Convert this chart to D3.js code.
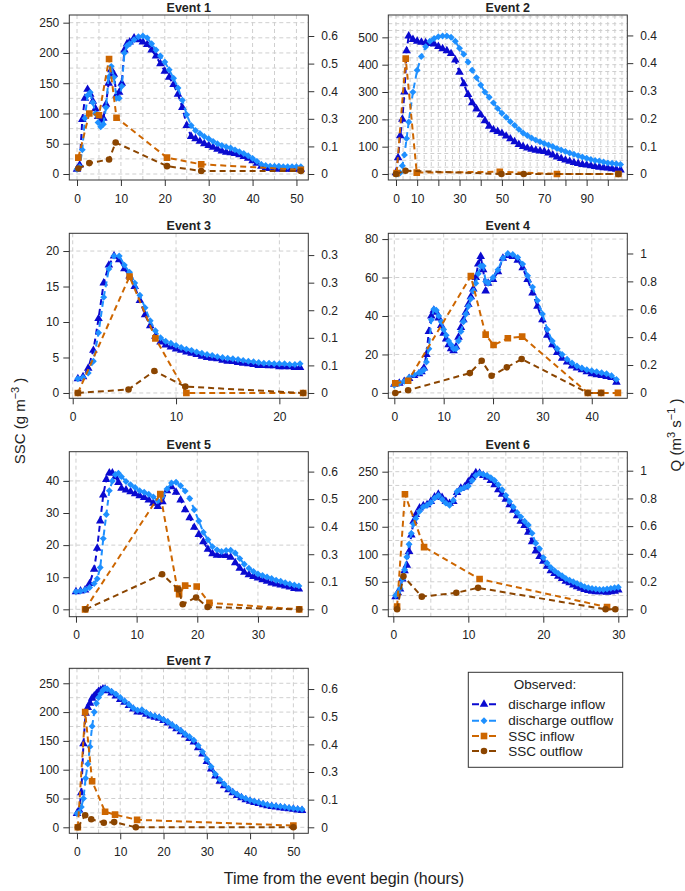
<!DOCTYPE html>
<html><head><meta charset="utf-8">
<script src="https://cdn.jsdelivr.net/npm/d3@7"></script>
<style>
body{margin:0;background:#fff}
svg{display:block}
text{font-family:"Liberation Sans",Arial,Helvetica,sans-serif;fill:#222}
</style>
</head><body>
<svg id="c" width="685" height="891"></svg>
<script>
// ---------------- DATA ----------------
// Event 1
const e1_t = [0,0.6,1.2,1.8,2.4,3,3.6,4.2,4.8,5.4,6,6.6,7.2,7.8,8.4,9,9.6,10.2,10.8,11.4,12,13,14,15,16,17,18,19,20,21,22,23,24,25,26,27,28,29,30,31,32,33,34,35,36,37,38,39,40,41,42,43,44,45,46,47,48,49,50,51];
const e1_qin = [0.021,0.039,0.237,0.329,0.368,0.347,0.316,0.284,0.25,0.232,0.242,0.303,0.395,0.453,0.434,0.342,0.355,0.395,0.539,0.566,0.574,0.592,0.584,0.574,0.563,0.539,0.513,0.479,0.447,0.421,0.389,0.347,0.289,0.211,0.163,0.153,0.142,0.132,0.124,0.116,0.108,0.1,0.095,0.092,0.089,0.084,0.076,0.068,0.058,0.047,0.034,0.026,0.024,0.024,0.021,0.021,0.021,0.021,0.021,0.021];
const e1_qout = [0.021,0.032,0.105,0.242,0.342,0.355,0.311,0.263,0.224,0.205,0.216,0.289,0.421,0.468,0.421,0.329,0.329,0.382,0.526,0.558,0.566,0.584,0.597,0.6,0.592,0.566,0.539,0.513,0.487,0.453,0.416,0.374,0.321,0.258,0.211,0.189,0.176,0.163,0.153,0.142,0.132,0.124,0.118,0.113,0.105,0.097,0.089,0.079,0.068,0.055,0.042,0.037,0.034,0.034,0.034,0.032,0.032,0.032,0.032,0.032];
const e1_sin_t = [0.3,2.8,5,7.3,9,20.5,28.3,51];
const e1_sin = [27,100,97,190,93,27,16,7];
const e1_sout_t = [0.3,2.8,7.3,8.8,20.5,28.3,51];
const e1_sout = [9,18,24,52,13,5,5];

// Event 2
const e2_t = [0,1,2,3,4,5,6,8,10,12,14,16,18,20,22,24,26,28,30,32,34,36,38,40,42,44,46,48,50,52,54,56,58,60,62,64,66,68,70,72,74,76,78,80,82,84,86,88,90,92,94,96,98,100,102,104,106];
const e2_qin = [0.004,0.053,0.124,0.178,0.266,0.4,0.448,0.437,0.431,0.428,0.426,0.424,0.422,0.414,0.407,0.4,0.391,0.37,0.33,0.293,0.258,0.231,0.211,0.192,0.173,0.155,0.144,0.138,0.132,0.123,0.114,0.105,0.096,0.089,0.084,0.08,0.077,0.075,0.073,0.068,0.062,0.055,0.05,0.045,0.041,0.037,0.034,0.031,0.029,0.027,0.024,0.022,0.02,0.019,0.017,0.015,0.013];
const e2_qout = [0,0,0.004,0.027,0.062,0.115,0.169,0.266,0.337,0.382,0.413,0.431,0.44,0.446,0.448,0.448,0.444,0.431,0.408,0.389,0.364,0.337,0.313,0.289,0.266,0.249,0.231,0.213,0.197,0.184,0.17,0.158,0.145,0.133,0.125,0.117,0.11,0.105,0.099,0.094,0.089,0.083,0.078,0.073,0.068,0.064,0.059,0.055,0.051,0.047,0.044,0.042,0.039,0.036,0.035,0.033,0.031];
const e2_sin_t = [0.3,4.6,9.8,49,76,105];
const e2_sin = [3,422,5,8,0,0];
const e2_sout_t = [0,4.5,49.8,60.3,105];
const e2_sout = [0,12,0,0,0];

// Event 3
const e3_t = [0.5,1,1.5,2,2.5,3,3.5,4,4.5,5,5.5,6,6.5,7,7.5,8,8.5,9,9.5,10,10.5,11,11.5,12,12.5,13,13.5,14,14.5,15,15.5,16,16.5,17,17.5,18,18.5,19,19.5,20,20.5,21,21.5,22];
const e3_qin = [0.034,0.039,0.059,0.102,0.178,0.263,0.306,0.328,0.319,0.297,0.28,0.255,0.221,0.187,0.161,0.136,0.122,0.115,0.11,0.105,0.102,0.098,0.095,0.092,0.088,0.085,0.083,0.082,0.078,0.076,0.075,0.073,0.071,0.07,0.068,0.066,0.066,0.065,0.065,0.063,0.063,0.063,0.061,0.061];
const e3_qout = [0.034,0.037,0.048,0.076,0.144,0.229,0.297,0.328,0.328,0.306,0.289,0.263,0.234,0.204,0.173,0.149,0.132,0.124,0.119,0.114,0.109,0.105,0.102,0.098,0.095,0.092,0.09,0.087,0.085,0.083,0.082,0.08,0.078,0.076,0.075,0.073,0.071,0.071,0.07,0.07,0.07,0.068,0.068,0.07];
const e3_sin_t = [0.5,5.5,8,11,22.3];
const e3_sin = [0,16.4,7.7,0,0];
const e3_sout_t = [0.5,5.4,7.9,10.9,22.3];
const e3_sout = [0,0.5,3.1,0.9,0];

// Event 4
const e4_t = [0,1,2,3,4,5,5.5,6,6.5,7,7.5,8,8.5,9,9.5,10,10.5,11,11.5,12,12.5,13,13.5,14,14.5,15,15.5,16,16.5,17,17.5,18,18.5,19,20,21,22,23,24,25,26,27,28,29,30,31,32,33,34,35,36,37,38,39,40,41,42,43,44,45];
const e4_qin = [0.062,0.069,0.083,0.103,0.124,0.138,0.152,0.179,0.276,0.441,0.552,0.593,0.579,0.538,0.483,0.428,0.386,0.345,0.317,0.303,0.331,0.4,0.469,0.524,0.579,0.634,0.69,0.745,0.828,0.924,0.979,0.883,0.731,0.786,0.814,0.869,0.966,0.986,0.979,0.952,0.897,0.814,0.717,0.621,0.524,0.414,0.345,0.29,0.248,0.221,0.193,0.179,0.166,0.152,0.138,0.131,0.124,0.117,0.11,0.076];
const e4_qout = [0.055,0.069,0.083,0.11,0.131,0.145,0.152,0.166,0.221,0.317,0.524,0.6,0.593,0.552,0.51,0.455,0.414,0.372,0.345,0.317,0.317,0.372,0.441,0.51,0.566,0.621,0.676,0.731,0.786,0.855,0.91,0.91,0.8,0.786,0.828,0.883,0.966,1.0,0.993,0.972,0.924,0.841,0.759,0.662,0.566,0.455,0.372,0.317,0.276,0.241,0.214,0.193,0.179,0.166,0.159,0.152,0.145,0.138,0.124,0.097];
const e4_sin_t = [0.2,2.8,15.5,18.5,20.1,23,25.9,39.2,41.9,45.3];
const e4_sin = [5,6.3,60.7,30.3,24.9,28.4,29.3,0,0,0];
const e4_sout_t = [0.2,2.8,15.3,17.7,19.7,22.8,25.8,39.2,41.9];
const e4_sout = [0,1.4,10.3,16.7,8.9,13.3,17.6,0,0];

// Event 5
const e5_t = [0,0.75,1.5,2.25,3,3.5,4,4.5,5,5.5,6,6.5,7,7.5,8.25,9,9.75,10.5,11.25,12,12.75,13.5,14.25,15,15.75,16.5,17.25,18,18.75,19.5,20.25,21,21.75,22.5,23.25,24,24.75,25.5,26.25,27,27.75,28.5,29.25,30,30.75,31.5,32.25,33,33.75,34.5,35.25,36,36.75];
const e5_qin = [0.077,0.08,0.084,0.112,0.175,0.266,0.385,0.498,0.566,0.594,0.594,0.578,0.552,0.527,0.52,0.512,0.503,0.495,0.487,0.476,0.462,0.448,0.469,0.517,0.534,0.51,0.476,0.434,0.399,0.357,0.326,0.294,0.262,0.242,0.236,0.235,0.234,0.227,0.203,0.179,0.161,0.151,0.143,0.136,0.129,0.122,0.115,0.11,0.106,0.102,0.097,0.091,0.088];
const e5_qout = [0.077,0.08,0.084,0.095,0.112,0.133,0.182,0.308,0.413,0.517,0.559,0.587,0.593,0.578,0.557,0.543,0.531,0.517,0.51,0.501,0.49,0.473,0.492,0.524,0.55,0.554,0.538,0.515,0.483,0.434,0.385,0.336,0.303,0.273,0.259,0.252,0.256,0.257,0.245,0.221,0.196,0.179,0.165,0.154,0.147,0.141,0.134,0.127,0.122,0.116,0.11,0.106,0.102];
const e5_sin_t = [1.5,13.9,16.7,17,18,19.9,22,36.8];
const e5_sin = [0,35.9,6.5,4.7,7.4,7.1,2,0];
const e5_sout_t = [1.6,14.2,16.9,17.6,19.8,21.7,36.8];
const e5_sout = [0,10.9,6.2,1.6,3.7,0.7,0];

// Event 6
const e6_t = [0.3,0.6,0.9,1.2,1.5,1.8,2.1,2.4,2.7,3,3.5,4,4.5,5,5.5,6,6.5,7,7.5,8,8.5,9,9.5,10,10.5,11,11.5,12,12.5,13,13.5,14,14.5,15,15.5,16,16.5,17,17.5,18,18.5,19,19.5,20,20.5,21,21.5,22,22.5,23,23.5,24,24.5,25,25.5,26,26.5,27,27.5,28,28.5,29,29.5,30];
const e6_qin = [0.091,0.119,0.147,0.218,0.278,0.318,0.417,0.536,0.635,0.683,0.731,0.747,0.755,0.778,0.81,0.83,0.806,0.778,0.763,0.778,0.842,0.874,0.882,0.921,0.953,0.985,0.981,0.965,0.953,0.929,0.898,0.862,0.83,0.794,0.755,0.715,0.675,0.635,0.604,0.556,0.488,0.421,0.381,0.346,0.31,0.278,0.258,0.238,0.222,0.203,0.191,0.175,0.163,0.151,0.143,0.135,0.131,0.127,0.127,0.127,0.123,0.127,0.131,0.139];
const e6_qout = [0.099,0.119,0.151,0.218,0.286,0.377,0.469,0.548,0.616,0.655,0.707,0.739,0.751,0.77,0.802,0.822,0.794,0.766,0.751,0.786,0.85,0.866,0.878,0.89,0.929,0.965,0.981,0.973,0.965,0.949,0.929,0.898,0.862,0.822,0.778,0.739,0.699,0.667,0.635,0.608,0.548,0.477,0.437,0.373,0.334,0.302,0.278,0.258,0.242,0.222,0.21,0.199,0.187,0.175,0.163,0.155,0.151,0.147,0.143,0.143,0.147,0.151,0.155,0.159];
const e6_sin_t = [0.5,1.55,4.1,11.5,28.5];
const e6_sin = [5,209,113,55,4];
const e6_sout_t = [0.5,1.35,3.8,8.4,11.3,28.3,29.6];
const e6_sout = [0,60,23,30,39,0,0];

// Event 7
const e7_t = [0,0.5,1,1.5,2,2.5,3,3.5,4,4.5,5,5.5,6,6.5,7,8,9,10,11,12,13,14,15,16,17,18,19,20,21,22,23,24,25,26,27,28,29,30,31,32,33,34,35,36,37,38,39,40,41,42,43,44,45,46,47,48,49,50,51,52];
const e7_qin = [0.06,0.075,0.15,0.363,0.495,0.52,0.538,0.56,0.57,0.58,0.59,0.595,0.6,0.6,0.593,0.583,0.57,0.555,0.543,0.528,0.513,0.5,0.5,0.49,0.483,0.478,0.473,0.463,0.453,0.44,0.428,0.415,0.4,0.385,0.37,0.345,0.318,0.285,0.253,0.223,0.2,0.18,0.163,0.15,0.138,0.128,0.12,0.113,0.108,0.103,0.098,0.093,0.09,0.088,0.085,0.083,0.08,0.078,0.075,0.073];
const e7_qout = [0.06,0.065,0.088,0.125,0.213,0.275,0.35,0.438,0.5,0.538,0.563,0.58,0.595,0.603,0.6,0.59,0.578,0.563,0.548,0.533,0.518,0.508,0.51,0.498,0.488,0.483,0.478,0.468,0.458,0.445,0.433,0.42,0.405,0.393,0.378,0.355,0.328,0.295,0.263,0.23,0.208,0.188,0.17,0.155,0.143,0.133,0.125,0.118,0.113,0.108,0.103,0.098,0.095,0.093,0.09,0.088,0.085,0.083,0.08,0.078];
const e7_sin_t = [0.2,1.9,3.5,6.5,8.8,13.9,50];
const e7_sin = [0,200,80,27,22,13,3];
const e7_sout_t = [0.2,1.9,3.3,6.2,8.6,13.6,50];
const e7_sout = [0,21,14,8,9,0,0];

// Tick labels
const sscTicks = {
  1:[0,50,100,150,200,250], 2:[0,100,200,300,400,500], 3:[0,5,10,15,20],
  4:[0,20,40,60,80], 5:[0,10,20,30,40], 6:[0,50,100,150,200,250], 7:[0,50,100,150,200,250]
};
const timeTicks = {
  1:[0,10,20,30,40,50], 2:[0,10,20,30,40,50,60,70,80,90,100], 3:[0,10,20],
  4:[0,10,20,30,40], 5:[0,10,20,30], 6:[0,10,20,30], 7:[0,10,20,30,40,50]
};
const timeLabelsShown2 = [0,10,30,50,70,90];
const qLabels = {
  1:["0","0.1","0.3","0.4","0.5","0.6"],
  2:["0","0.1","0.2","0.3","0.4","0.4"],
  3:["0","0.1","0.1","0.2","0.3","0.3"],
  4:["0","0.2","0.4","0.6","0.8","1"],
  5:["0","0.1","0.3","0.4","0.5","0.6"],
  6:["0","0.2","0.4","0.6","0.8","1"],
  7:["0","0.1","0.3","0.4","0.5","0.6"]
};
const legendLabels = ["discharge inflow","discharge outflow","SSC inflow","SSC outflow"];

// ---------------- LAYOUT / SCALES CONFIG ----------------
const colLeft = [69.3, 388.3], boxW = 239;
const rowTop = [15, 233.3, 451.7, 668.3], boxH = 165;
const COL = {qin:"#0a0ad0", qout:"#1E90FF", sin:"#CD6600", sout:"#8B4500"};

const panels = [
  {n:1,col:0,row:0,xDom:[-1.76,52.7],yDom:[-9.9,262.7],qTop:0.6,qTopSSC:228,gx:5,gy:25,
   t:e1_t,qin:e1_qin,qout:e1_qout,sinT:e1_sin_t,sin:e1_sin,soutT:e1_sout_t,sout:e1_sout},
  {n:2,col:1,row:0,xDom:[-3.63,109.2],yDom:[-22,581.8],qTop:0.45,qTopSSC:507,gx:10/3,gy:25,
   t:e2_t,qin:e2_qin,qout:e2_qout,sinT:e2_sin_t,sin:e2_sin,soutT:e2_sout_t,sout:e2_sout},
  {n:3,col:0,row:1,xDom:[-0.33,22.8],yDom:[-0.75,22.5],qTop:0.33,qTopSSC:19.43,gx:10,gy:20,
   t:e3_t,qin:e3_qin,qout:e3_qout,sinT:e3_sin_t,sin:e3_sin,soutT:e3_sout_t,sout:e3_sout},
  {n:4,col:1,row:1,xDom:[-1.22,47.2],yDom:[-2.8,83],qTop:1,qTopSSC:72.5,gx:10,gy:20,
   t:e4_t,qin:e4_qin,qout:e4_qout,sinT:e4_sin_t,sin:e4_sin,soutT:e4_sout_t,sout:e4_sout},
  {n:5,col:0,row:2,xDom:[-1.1,38.3],yDom:[-2.3,49.1],qTop:0.6,qTopSSC:42.9,gx:10,gy:20,
   t:e5_t,qin:e5_qin,qout:e5_qout,sinT:e5_sin_t,sin:e5_sin,soutT:e5_sout_t,sout:e5_sout},
  {n:6,col:1,row:2,xDom:[-0.67,31.2],yDom:[-13.4,286.3],qTop:1,qTopSSC:251.8,gx:5,gy:25,
   t:e6_t,qin:e6_qin,qout:e6_qout,sinT:e6_sin_t,sin:e6_sin,soutT:e6_sout_t,sout:e6_sout},
  {n:7,col:0,row:3,xDom:[-1.77,53.45],yDom:[-10.4,276],qTop:0.6,qTopSSC:240,gx:5,gy:25,
   t:e7_t,qin:e7_qin,qout:e7_qout,sinT:e7_sin_t,sin:e7_sin,soutT:e7_sout_t,sout:e7_sout}
];

// ---------------- DRAW ----------------
const svg = d3.select("#c");
const FONT = '"Liberation Sans",Arial,Helvetica,sans-serif';
svg.append("rect").attr("width",685).attr("height",891).attr("fill","#fff");

function marker(sel, kind, color){
  if(kind==="qin") sel.append("path").attr("d", d3.symbol(d3.symbolTriangle, 32)()).attr("fill", color);
  else if(kind==="qout") sel.append("path").attr("d", d3.symbol(d3.symbolSquare, 24)()).attr("transform","rotate(45)").attr("fill", color);
  else if(kind==="sin") sel.append("path").attr("d", d3.symbol(d3.symbolSquare, 44)()).attr("fill", color);
  else sel.append("path").attr("d", d3.symbol(d3.symbolCircle, 34)()).attr("fill", color);
}

function styleAxis(g){
  g.attr("font-size", 12).attr("font-family", FONT).style("color","#222");
  g.select(".domain").remove();
  g.selectAll(".tick line").attr("stroke","#333");
  g.selectAll(".tick text").style("fill","#222");
}

panels.forEach((p,i)=>{
  const x0 = colLeft[p.col], y0 = rowTop[p.row];
  const x = d3.scaleLinear().domain(p.xDom).range([x0, x0+boxW]);
  const y = d3.scaleLinear().domain(p.yDom).range([y0+boxH, y0]);
  const q = d3.scaleLinear().domain([0, p.qTop]).range([y(0), y(p.qTopSSC)]);
  const g = svg.append("g");

  const cid = "clip"+i;
  svg.append("clipPath").attr("id",cid).append("rect")
    .attr("x",x0).attr("y",y0).attr("width",boxW).attr("height",boxH);

  // grid
  const gx = d3.range(0, p.xDom[1], p.gx).filter(v=>v>=p.xDom[0]);
  const gy = d3.range(0, p.yDom[1], p.gy).filter(v=>v>=p.yDom[0]);
  const grid = g.append("g").attr("stroke","#cfcfcf").attr("stroke-width",1).attr("stroke-dasharray","4,3");
  grid.selectAll(".gv").data(gx).join("line").attr("x1",d=>x(d)).attr("x2",d=>x(d)).attr("y1",y0).attr("y2",y0+boxH);
  grid.selectAll(".gh").data(gy).join("line").attr("x1",x0).attr("x2",x0+boxW).attr("y1",d=>y(d)).attr("y2",d=>y(d));

  const plot = g.append("g").attr("clip-path",`url(#${cid})`);
  const series = [
    {kind:"qin", pts:p.t.map((t,j)=>[x(t), q(p.qin[j])])},
    {kind:"qout", pts:p.t.map((t,j)=>[x(t), q(p.qout[j])])},
    {kind:"sin", pts:p.sinT.map((t,j)=>[x(t), y(p.sin[j])])},
    {kind:"sout", pts:p.soutT.map((t,j)=>[x(t), y(p.sout[j])])}
  ];
  series.forEach(s=>{
    const pts = s.pts.filter(d=>isFinite(d[0])&&isFinite(d[1]));
    plot.append("path").attr("d", d3.line()(pts)).attr("fill","none")
      .attr("stroke", COL[s.kind]).attr("stroke-width",2).attr("stroke-dasharray","6,4");
    const mg = plot.append("g");
    pts.forEach(d=>{
      const m = mg.append("g").attr("transform",`translate(${d[0]},${d[1]})`);
      marker(m, s.kind, COL[s.kind]);
    });
  });

  // box
  g.append("rect").attr("x",x0).attr("y",y0).attr("width",boxW).attr("height",boxH)
    .attr("fill","none").attr("stroke","#333").attr("stroke-width",1);

  // axes
  const ax1 = g.append("g").attr("transform",`translate(${x0},0)`)
    .call(d3.axisLeft(y).tickValues(sscTicks[p.n]).tickSize(6).tickPadding(4).tickFormat(d3.format("d")));
  styleAxis(ax1);
  const shown = p.n===2 ? timeLabelsShown2 : timeTicks[p.n];
  const ax2 = g.append("g").attr("transform",`translate(0,${y0+boxH})`)
    .call(d3.axisBottom(x).tickValues(timeTicks[p.n]).tickSize(6).tickPadding(8)
      .tickFormat(d=> shown.includes(d) ? d : ""));
  styleAxis(ax2);
  const qt = d3.range(6).map(k=>k*p.qTop/5);
  const ax3 = g.append("g").attr("transform",`translate(${x0+boxW},0)`)
    .call(d3.axisRight(q).tickValues(qt).tickSize(6).tickPadding(7).tickFormat((d,k)=>qLabels[p.n][k]));
  styleAxis(ax3);

  // title
  g.append("text").attr("x", x0+boxW/2).attr("y", y0-3).attr("text-anchor","middle")
    .attr("font-size",12.5).attr("font-weight","bold").text("Event "+p.n);
});

// axis titles
const ssc = svg.append("text").attr("transform","translate(25,421) rotate(-90)")
  .attr("text-anchor","middle").attr("font-size",15);
ssc.append("tspan").text("SSC (g m");
ssc.append("tspan").attr("font-size",11).attr("dy",-6).text("\u22123");
ssc.append("tspan").attr("dy",6).text(" )");

const ql = svg.append("text").attr("transform","translate(681,435) rotate(-90)")
  .attr("text-anchor","middle").attr("font-size",15);
ql.append("tspan").text("Q (m");
ql.append("tspan").attr("font-size",11).attr("dy",-6).text("3");
ql.append("tspan").attr("dy",6).text(" s");
ql.append("tspan").attr("font-size",11).attr("dy",-6).text("\u22121");
ql.append("tspan").attr("dy",6).text(" )");

svg.append("text").attr("x",344).attr("y",884).attr("text-anchor","middle")
  .attr("font-size",16).text("Time from the event begin (hours)");

// legend
const lg = svg.append("g");
lg.append("rect").attr("x",468.3).attr("y",672.3).attr("width",154.4).attr("height",95)
  .attr("fill","#fff").attr("stroke","#333").attr("stroke-width",1);
lg.append("text").attr("x",545).attr("y",689).attr("text-anchor","middle").attr("font-size",13.5).text("Observed:");
const lk = ["qin","qout","sin","sout"];
const rowY = [704.3,720.7,736,751];
lk.forEach((k,i)=>{
  lg.append("line").attr("x1",472).attr("x2",496).attr("y1",rowY[i]).attr("y2",rowY[i])
    .attr("stroke",COL[k]).attr("stroke-width",2).attr("stroke-dasharray","7,10");
  const m = lg.append("g").attr("transform",`translate(484,${rowY[i]})`);
  marker(m, k, COL[k]);
  lg.append("text").attr("x",508.3).attr("y",rowY[i]+4.7).attr("font-size",13.5).text(legendLabels[i]);
});
</script>
</body></html>
